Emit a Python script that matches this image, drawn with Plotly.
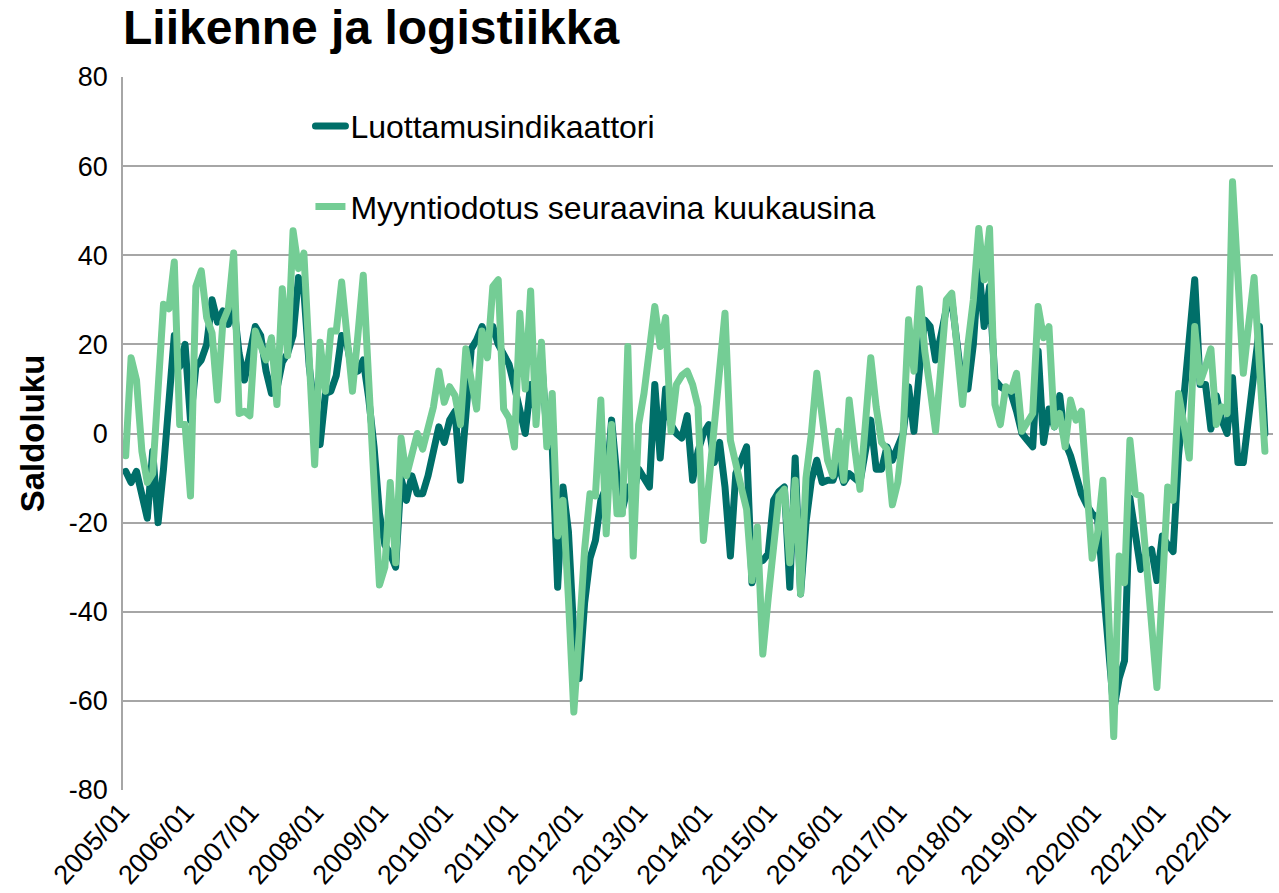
import plotly.graph_objects as go

# Months 2005/01 .. 2022/08
years = list(range(2005, 2023))
months = [f"{y}/{m:02d}" for y in years for m in range(1, 13)][:212]
tick_labels = [f"{y}/01" for y in years]
y_tick_vals = [-80, -60, -40, -20, 0, 20, 40, 60, 80]
y_tick_text = ["-80", "-60", "-40", "-20", "0", "20", "40", "60", "80"]

# Myyntiodotus seuraavina kuukausina (light green), one row per year
myyntiodotus = [
    -5, 17, 12, -4, -11, -9, 10, 29, 28, 38.5, 2, 2,
    -14, 33, 36.5, 26, 22.5, 7.5, 25, 28, 40.5, 4.5, 5, 4,
    23, 19.5, 16.5, 21.5, 6.5, 32.5, 17.5, 45.5, 37, 40.5, 17, -7,
    20.5, 9.5, 23, 23, 34, 22, 9.5, 22, 35.5, 12, -11, -34,
    -30, -11, -29, -1, -9.5, -4, 0, -3.5, 2, 6, 14, 7,
    10.5, 8.5, 2, 19, 12, 5.5, 23, 17, 33, 34.5, 5.5, 3.5,
    -3, 27, 10, 32, 2, 20.5, -3, 9, -23, -15, -37, -62.5,
    -45, -26, -13.5, -14, 7.5, -22.5, 2, -18, -18, 19.5, -27.5, 2,
    9, 18.5, 28.5, 19.5, 26, 0.5, 11, 13, 14, 11, 6, -24,
    -11, 2, 15, 27, -1.5, -6, -12, -17, -33, -21, -49.5, -37,
    -25, -14, -12.5, -29, -10.5, -36, -10, 0, 13.5, 2, -6, -9.5,
    0.5, -10.5, 7.5, -3, -12.5, 2, 17, 6, -2, -3.5, -16, -11,
    0, 25.5, 14, 32.5, 18.5, 10, 0.5, 15, 30, 31.5, 18, 6.5,
    20, 30, 46, 34.5, 46, 6.5, 2, 10.5, 9.5, 13.5, 0.5, 2.5,
    4.5, 28.5, 21.5, 24, 1.5, 4.5, -3, 7.5, 3, 5, -10, -28,
    -22.5, -10.5, -39, -68, -27.5, -33.5, -1.5, -13.5, -14, -28, -42, -57,
    -35, -12, -15, 9, 2, -5.5, 24, 11.5, 15, 19, 2, 6,
    4.5, 56.5, 35, 13.5, 24.5, 35, 15, -4,
]

# Luottamusindikaattori (dark teal), one row per year
luottamus = [
    -8.5, -11, -8.5, -14, -19, -4, -20, -8, 5, 22, 15, 20,
    3, 15, 16.5, 20, 30, 25, 27.5, 24.5, 29, 18, 12, 19,
    24, 22, 14, 9, 10, 16, 18, 22, 35, 32, 15, 5,
    -2.5, 9, 9.5, 13, 22, 20, 13.5, 14, 16.5, 8, -3, -18,
    -25, -27, -30, -10, -15, -9.5, -13.5, -13.5, -9.5, -4, 1.5, -2,
    3, 5, -10.5, 4, 19, 21, 24, 21, 24, 20, 17.5, 15.5,
    10.5, 5, 0, 11, 5, 17, 0, -3, -34.5, -12, -22, -45,
    -55, -38, -28, -24, -15, -12, 3, -10, -17, -12, -14, -8,
    -10, -12, 11, -5.5, 10, 2, 0, -1, 4, -10.5, -4, 0,
    2, -6.5, -2, -12, -27.5, -9, -6, -3, -33.5, -29, -28.5, -27,
    -15, -13, -12, -34.5, -5.5, -36, -20, -10.5, -6, -11, -10.5, -10.5,
    -7, -11, -9, -10, -11, -4, 3, -8, -8, -3, -6, -3,
    0, 10.5, 0.5, 14, 25.5, 24, 16.5, 22, 28, 30, 20, 10,
    10, 20, 37.5, 24, 33, 12, 10.5, 9.5, 9, 5, 0, -1.5,
    -3, 18.5, -2, 5.5, 1.5, 8.5, -2, -5, -9, -13.5, -16, -18,
    -19, -35, -50, -62, -55, -51, -14.5, -22, -30.5, -27, -26, -33,
    -23, -25, -26.5, -5, 8, 20, 34.5, 11, 11, 1, 8.5, 3,
    0, 12.5, -6.5, -6.5, 4, 14, 24, 0,
]

DARK = "#006F69"
LIGHT = "#74CD95"
GRID = "#A6A6A6"
FONT = "Liberation Sans, Arial, sans-serif"

W, H = 1279, 893

fig = go.Figure()
fig.add_trace(go.Scatter(
    x=months, y=luottamus, mode="lines", name="Luottamusindikaattori",
    line=dict(color=DARK, width=7), legend="legend",
))
fig.add_trace(go.Scatter(
    x=months, y=myyntiodotus, mode="lines", name="Myyntiodotus seuraavina kuukausina",
    line=dict(color=LIGHT, width=7), legend="legend2",
))

fig.update_layout(
    width=W, height=H,
    margin=dict(l=123, r=6, t=77, b=103, autoexpand=False),
    paper_bgcolor="white", plot_bgcolor="white",
    font=dict(family=FONT, color="black", size=26),
    title=dict(
        text="<b>Liikenne ja logistiikka</b>",
        font=dict(family=FONT, size=48, color="black"),
        x=0, xref="paper", xanchor="left",
        y=1 - 10 / H, yref="container", yanchor="top",
        pad=dict(t=0, b=0, l=0, r=0),
    ),
    showlegend=True,
    legend=dict(
        x=0.163, y=0.931, xanchor="left", yanchor="middle",
        font=dict(family=FONT, size=32, color="black"),
        bgcolor="rgba(0,0,0,0)", borderwidth=0,
    ),
    legend2=dict(
        x=0.163, y=0.818, xanchor="left", yanchor="middle",
        font=dict(family=FONT, size=32, color="black"),
        bgcolor="rgba(0,0,0,0)", borderwidth=0,
    ),
    xaxis=dict(
        type="category",
        categoryorder="array", categoryarray=months,
        range=[-0.5, 212.5],
        tickmode="array", tickvals=tick_labels, ticktext=tick_labels,
        tickangle=-48, ticklabelshift=-5,
        tickfont=dict(family=FONT, size=27, color="black"),
        showgrid=False, showline=False, zeroline=False,
        ticks="", automargin=False,
    ),
    yaxis=dict(
        range=[-80, 80],
        tickmode="array", tickvals=y_tick_vals, ticktext=y_tick_text,
        showgrid=True, gridcolor=GRID, gridwidth=1.5,
        zeroline=True, zerolinecolor=GRID, zerolinewidth=1.5,
        showline=True, linecolor=GRID, linewidth=1.5,
        ticks="", ticklabelstandoff=8, automargin=False,
        tickfont=dict(family=FONT, size=27, color="black"),
        title=dict(text="<b>Saldoluku</b>", font=dict(family=FONT, size=33, color="black"),
                   standoff=14),
    ),
)

post = """
document.body.style.margin = '0';
document.body.style.overflow = 'hidden';
document.querySelectorAll('.scatterlayer path.js-line, .legend path.js-line').forEach(function(p){
  p.style.strokeLinejoin='round'; p.style.strokeLinecap='round';
});
"""
fig.write_html("out.html", post_script=post, config={"displayModeBar": False})
